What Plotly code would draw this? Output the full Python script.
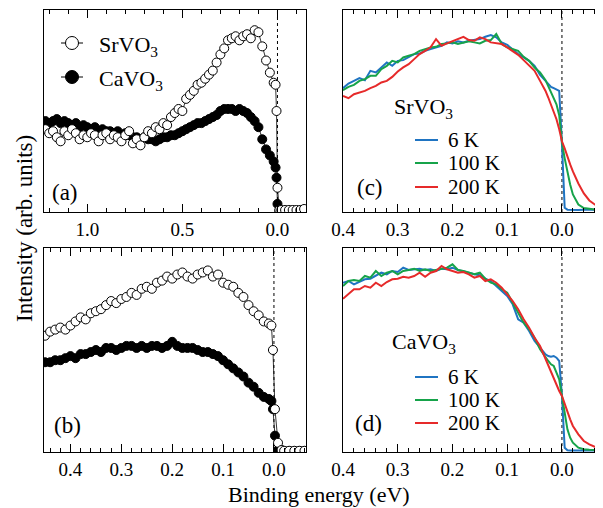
import plotly.graph_objects as go

# ---------------- data ----------------
# Panel (a): wide range, binding energy (eV)
E_a = [1.22, 1.20, 1.18, 1.16, 1.14, 1.12, 1.10, 1.08, 1.06, 1.04,
       1.02, 1.00, 0.98, 0.96, 0.94, 0.92, 0.90, 0.88, 0.86, 0.84,
       0.82, 0.80, 0.78, 0.76, 0.74, 0.72, 0.70, 0.68, 0.66, 0.64,
       0.62, 0.60, 0.58, 0.56, 0.54, 0.52, 0.50, 0.48, 0.46, 0.44,
       0.42, 0.40, 0.38, 0.36, 0.34, 0.32, 0.30, 0.28, 0.26, 0.24,
       0.22, 0.20, 0.18, 0.16, 0.14, 0.12, 0.10, 0.08, 0.06, 0.04,
       0.02, 0.01, 0.005, 0.0, -0.01, -0.02, -0.04, -0.06, -0.08, -0.10,
       -0.12, -0.14]
SrVO3_a = [0.41, 0.39, 0.40, 0.37, 0.35, 0.40, 0.38, 0.41, 0.39, 0.36,
           0.38, 0.37, 0.39, 0.38, 0.35, 0.38, 0.39, 0.36, 0.38, 0.37,
           0.35, 0.38, 0.40, 0.34, 0.36, 0.33, 0.37, 0.40, 0.39, 0.42,
           0.41, 0.44, 0.43, 0.47, 0.49, 0.51, 0.50, 0.56, 0.58, 0.60,
           0.63, 0.64, 0.66, 0.68, 0.70, 0.74, 0.78, 0.81, 0.85, 0.86,
           0.87, 0.85, 0.87, 0.88, 0.86, 0.90, 0.89, 0.82, 0.75, 0.69,
           0.64, 0.63, 0.50, 0.12, 0.01, 0.01, 0.01, 0.01, 0.01, 0.01,
           0.01, 0.015]
CaVO3_a = [0.45, 0.44, 0.45, 0.46, 0.44, 0.45, 0.44, 0.43, 0.44, 0.42,
           0.43, 0.42, 0.41, 0.42, 0.40, 0.41, 0.40, 0.40, 0.39, 0.40,
           0.38, 0.39, 0.38, 0.37, 0.37, 0.36, 0.37, 0.36, 0.36, 0.35,
           0.36, 0.37, 0.37, 0.38, 0.38, 0.39, 0.40, 0.41, 0.42, 0.43,
           0.44, 0.44, 0.45, 0.46, 0.47, 0.48, 0.50, 0.51, 0.51, 0.51,
           0.50, 0.51, 0.50, 0.49, 0.47, 0.45, 0.42, 0.36, 0.31, 0.28,
           0.25, 0.22, 0.17, 0.04, 0.005, 0.005, 0.005, 0.005, 0.005, 0.005,
           0.005, 0.005]

# Panel (b): near-EF region
E_b = [0.45, 0.44, 0.43, 0.42, 0.41, 0.40, 0.39, 0.38, 0.37, 0.36,
       0.35, 0.34, 0.33, 0.32, 0.31, 0.30, 0.29, 0.28, 0.27, 0.26,
       0.25, 0.24, 0.23, 0.22, 0.21, 0.20, 0.19, 0.18, 0.17, 0.16,
       0.15, 0.14, 0.13, 0.12, 0.11, 0.10, 0.09, 0.08, 0.07, 0.06,
       0.05, 0.04, 0.03, 0.02, 0.01, 0.005, 0.002, -0.002, -0.008, -0.015,
       -0.02, -0.03, -0.04, -0.05, -0.06]
SrVO3_b = [0.57, 0.59, 0.60, 0.61, 0.60, 0.62, 0.64, 0.66, 0.65, 0.68,
           0.69, 0.70, 0.72, 0.74, 0.73, 0.75, 0.76, 0.78, 0.77, 0.80,
           0.81, 0.80, 0.83, 0.84, 0.86, 0.85, 0.87, 0.88, 0.86, 0.85,
           0.87, 0.88, 0.89, 0.86, 0.87, 0.83, 0.82, 0.81, 0.78, 0.76,
           0.72, 0.69, 0.67, 0.64, 0.63, 0.62, 0.50, 0.21, 0.045, 0.01,
           0.006, 0.006, 0.006, 0.006, 0.006]
CaVO3_b = [0.44, 0.44, 0.45, 0.45, 0.46, 0.47, 0.46, 0.48, 0.48, 0.49,
           0.50, 0.49, 0.51, 0.51, 0.50, 0.51, 0.52, 0.52, 0.51, 0.52,
           0.51, 0.52, 0.52, 0.51, 0.52, 0.54, 0.52, 0.51, 0.51, 0.51,
           0.50, 0.49, 0.49, 0.48, 0.47, 0.45, 0.43, 0.41, 0.39, 0.37,
           0.34, 0.32, 0.29, 0.27, 0.26, 0.25, 0.21, 0.08, 0.01, 0.005,
           0.005, 0.005, 0.005, 0.005, 0.005]

# Panels (c), (d): temperature dependence
E_cd = [0.40, 0.39, 0.38, 0.37, 0.36, 0.35, 0.34, 0.33, 0.32, 0.31,
        0.30, 0.29, 0.28, 0.27, 0.26, 0.25, 0.24, 0.23, 0.22, 0.21,
        0.20, 0.19, 0.18, 0.17, 0.16, 0.15, 0.14, 0.13, 0.12, 0.11,
        0.10, 0.09, 0.08, 0.07, 0.06, 0.05, 0.04, 0.03,
        0.025, 0.02, 0.015, 0.01, 0.005, 0.0, -0.005, -0.01, -0.015, -0.02,
        -0.03, -0.04, -0.05, -0.06, -0.07]
temps = ["6 K", "100 K", "200 K"]

Sr_6K = [122, 126.7, 129.3, 132, 130, 139.3, 137.7, 142.7, 147.7, 144.3,
         149.3, 150, 152.7, 156, 156.7, 159.3, 161, 162.7, 164.3, 167.7,
         166.7, 168.7, 167.7, 169.3, 170, 171, 173.3, 175, 172.7, 167.7,
         165.3, 161, 156, 152.7, 149.3, 144.3, 135.3, 129.3,
         126, 123.3, 122, 121, 119.3, 66, 2.7, 0.8, 0.6, 0.8,
         0.6, 0.7, 0.6, 0.6, 0.7]
Sr_100K = [120, 123.3, 125.3, 129.3, 131, 134.3, 134.3, 141, 144.3, 149.3,
           147.7, 152.7, 154.3, 156, 159.3, 161, 162.7, 163.3, 166, 166.7,
           167.7, 166, 167.7, 168.7, 167.7, 166.7, 169.3, 170, 176, 166,
           162.7, 161, 159.3, 153.3, 149.3, 142.7, 137.7, 130,
           124.3, 118, 112, 106, 95, 68, 52, 38, 26, 16,
           6, 2.5, 1.5, 1, 1]
Sr_200K = [114.3, 112, 116, 117.7, 119.3, 122, 124.3, 127.7, 129.3, 133.3,
           138.7, 142.7, 146, 151, 156, 159.3, 162.7, 171, 164.3, 166.7,
           168.7, 171, 173.3, 170, 169.3, 172.7, 171, 167.7, 166.7, 166,
           162.7, 159.3, 155.3, 150, 144.3, 139.3, 129.3, 119.3,
           112.7, 106, 99.3, 91, 81, 69, 62, 53, 46, 39,
           27, 17, 10, 6, 3]

Ca_6K = [168.3, 170, 166.7, 169, 171.7, 172.3, 175.7, 178.3, 176.7, 180,
         179, 183.3, 181, 181.7, 182.3, 181, 181.7, 180, 182.3, 181.7,
         183.3, 181, 180, 178.3, 176.7, 175.7, 172.3, 170, 165, 160,
         155, 146.7, 131.7, 128.3, 120, 110, 103.3, 96.7,
         95, 94.3, 95, 93.3, 90, 55, 3.3, 0.7, 0.5, 0.5,
         0.5, 0.5, 0.5, 0.5, 0.5]
Ca_100K = [165, 170, 171, 170, 175, 173.3, 180, 175, 178.3, 180,
           176.7, 180, 181, 182.3, 180, 181.7, 180, 181, 182.3, 183.3,
           186.7, 181, 180, 178.3, 176.7, 178.3, 172.3, 168.3, 166.7, 161.7,
           158.3, 148.3, 138.3, 128.3, 121.7, 113.3, 101.7, 93.3,
           90, 86.7, 85, 78.3, 71.7, 55, 38.3, 21.7, 13.3, 8.3,
           3.3, 1.7, 1.2, 1, 1]
Ca_200K = [152.3, 156.7, 161.7, 161.7, 165, 163.3, 168.3, 165, 169, 171.7,
           172.3, 174.3, 173.3, 175, 178.3, 174.3, 178.3, 180, 185, 181.7,
           180, 178.3, 179, 176.7, 173.3, 175, 170, 171.7, 168.3, 163.3,
           156.7, 150, 141.7, 131.7, 123.3, 113.3, 105, 91.7,
           85, 78.3, 71.7, 65, 60, 55, 46.7, 38.3, 31.7, 25,
           16.7, 10, 6.7, 4.3, 2.3]

# ---------------- styling ----------------
W, H = 603, 508
OFF = 8  # page body margin of the browser
FONT = '"Liberation Serif", "Times New Roman", serif'
colors = ["#1f74c2", "#16a34a", "#e62a2a"]


def fx(p):
    return (p - OFF) / W


def fy(p):
    return 1 - (p - OFF) / H


fig = go.Figure()


def circles(x, y, xa, ya, fill):
    fig.add_trace(go.Scatter(x=x, y=y, mode="lines+markers", xaxis=xa, yaxis=ya,
                             line=dict(color="black", width=0.8),
                             marker=dict(symbol="circle", size=9, color=fill,
                                         line=dict(color="black", width=1)),
                             showlegend=False))


circles(E_a, CaVO3_a, "x", "y", "black")
circles(E_a, SrVO3_a, "x", "y", "white")
circles(E_b, CaVO3_b, "x2", "y2", "black")
circles(E_b, SrVO3_b, "x2", "y2", "white")

for ys, c, t in zip([Sr_6K, Sr_100K, Sr_200K], colors, temps):
    fig.add_trace(go.Scatter(x=E_cd, y=ys, mode="lines", xaxis="x3", yaxis="y3",
                             line=dict(color=c, width=2), name=t, showlegend=False))
for ys, c, t in zip([Ca_6K, Ca_100K, Ca_200K], colors, temps):
    fig.add_trace(go.Scatter(x=E_cd, y=ys, mode="lines", xaxis="x4", yaxis="y4",
                             line=dict(color=c, width=2), name=t, showlegend=False))


def xax(anchor, domain, rng, dtick, minor_dtick):
    return dict(anchor=anchor, domain=domain, range=rng, autorange=False, showline=True,
                linecolor="black", linewidth=1, mirror="ticks", ticks="inside", ticklen=8,
                tickwidth=1, tickcolor="black", dtick=dtick, tick0=0, tickformat=".1f",
                showgrid=False, zeroline=False, automargin=False,
                tickfont=dict(family=FONT, size=19, color="black"),
                minor=dict(ticks="inside", ticklen=4, dtick=minor_dtick, tick0=0,
                           tickcolor="black", showgrid=False))


def yax(anchor, domain, rng, mirror):
    return dict(anchor=anchor, domain=domain, range=rng, autorange=False, showline=True,
                linecolor="black", linewidth=1, mirror=mirror, ticks="",
                showticklabels=False, showgrid=False, zeroline=False, automargin=False)


left = [fx(43.5), fx(306)]
right = [fx(343), fx(603)]
top = [fy(212), fy(10)]
bot = [fy(452), fy(248)]

fig.update_layout(
    width=W, height=H, autosize=False,
    margin=dict(l=0, r=0, t=0, b=0, pad=0),
    paper_bgcolor="white", plot_bgcolor="white",
    font=dict(family=FONT, color="black"),
    xaxis=xax("y", left, [1.23, -0.15], 0.5, 0.1),
    yaxis=yax("x", top, [0, 1], True),
    xaxis2=xax("y2", left, [0.453, -0.063], 0.1, 0.02),
    yaxis2=yax("x2", bot, [0, 1], True),
    xaxis3=xax("y3", right, [0.40, -0.075], 0.1, 0.02),
    yaxis3=yax("x3", top, [-1.5, 200], False),
    xaxis4=xax("y4", right, [0.40, -0.075], 0.1, 0.02),
    yaxis4=yax("x4", bot, [-1, 203], False),
)

# dotted E_F lines
for xa, ya in [("x", "y"), ("x2", "y2"), ("x3", "y3"), ("x4", "y4")]:
    fig.add_shape(type="line", xref=xa, yref=ya + " domain", x0=0, x1=0, y0=0, y1=1,
                  line=dict(color="black", width=1, dash="dot"), layer="below")

ann = []
for txt, x, y in [("(a)", 50, 192), ("(b)", 52, 425), ("(c)", 355, 187), ("(d)", 353, 423)]:
    ann.append(dict(text=txt, x=fx(x), y=fy(y), xref="paper", yref="paper",
                    xanchor="left", yanchor="middle", showarrow=False,
                    font=dict(family=FONT, size=23, color="black")))

for txt, y, fill in [("SrVO<sub>3</sub>", 43, "white"), ("CaVO<sub>3</sub>", 77, "black")]:
    fig.add_shape(type="line", xref="paper", yref="paper", x0=fx(61), x1=fx(83),
                  y0=fy(y), y1=fy(y), line=dict(color="black", width=1))
    fig.add_shape(type="circle", xref="paper", yref="paper", x0=fx(72 - 6.5), x1=fx(72 + 6.5),
                  y0=fy(y + 6.5), y1=fy(y - 6.5), fillcolor=fill,
                  line=dict(color="black", width=1))
    ann.append(dict(text=txt, x=fx(97), y=fy(y + 3), xref="paper", yref="paper",
                    xanchor="left", yanchor="middle", showarrow=False,
                    font=dict(family=FONT, size=22, color="black")))

for title, tx, ty, rows in [("SrVO<sub>3</sub>", 392, 108, [140, 163, 187]),
                            ("CaVO<sub>3</sub>", 390, 343, [377, 400, 423])]:
    ann.append(dict(text=title, x=fx(tx), y=fy(ty), xref="paper", yref="paper",
                    xanchor="left", yanchor="middle", showarrow=False,
                    font=dict(family=FONT, size=22, color="black")))
    for t, c, ry in zip(temps, colors, rows):
        fig.add_shape(type="line", xref="paper", yref="paper", x0=fx(415), x1=fx(438),
                      y0=fy(ry), y1=fy(ry), line=dict(color=c, width=2))
        ann.append(dict(text=t, x=fx(446), y=fy(ry), xref="paper", yref="paper",
                        xanchor="left", yanchor="middle", showarrow=False,
                        font=dict(family=FONT, size=21, color="black")))

ann.append(dict(text="Binding energy (eV)", x=fx(319), y=fy(494), xref="paper", yref="paper",
                xanchor="center", yanchor="middle", showarrow=False,
                font=dict(family=FONT, size=22, color="black")))
ann.append(dict(text="Intensity (arb. units)", x=fx(24), y=fy(229), xref="paper", yref="paper",
                xanchor="center", yanchor="middle", showarrow=False, textangle=-90,
                font=dict(family=FONT, size=23, color="black")))

fig.update_layout(annotations=ann)
fig.write_html("out.html")
